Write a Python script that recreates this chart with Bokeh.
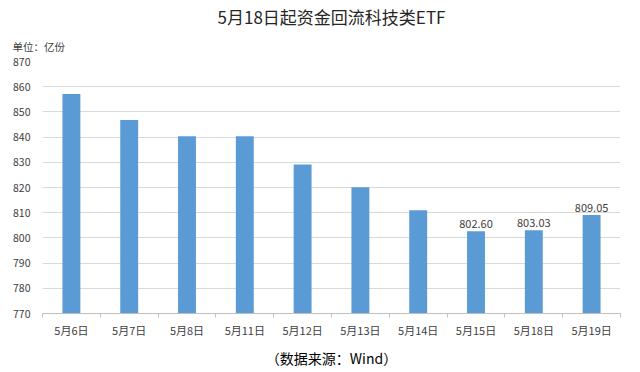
import numpy as np
from bokeh.plotting import figure
from bokeh.models import Title, FixedTicker, Range1d, ColumnDataSource
from bokeh.core.properties import value
from bokeh.embed import file_html
from bokeh.resources import INLINE

categories = ["5月6日", "5月7日", "5月8日", "5月11日", "5月12日",
              "5月13日", "5月14日", "5月15日", "5月18日", "5月19日"]
shares = [857.1, 846.8, 840.3, 840.3, 829.1, 820.1, 811.0, 802.60, 803.03, 809.05]
labeled = [False, False, False, False, False, False, False, True, True, True]
y_ticks = [770, 780, 790, 800, 810, 820, 830, 840, 850, 860, 870]
title_text = "5月18日起资金回流科技类ETF"
unit_text = "单位：亿份"
source_text = "（数据来源：Wind）"

CJK = "Noto Sans CJK SC"
xs = np.arange(len(categories))

p = figure(width=640, height=372, output_backend="svg", toolbar_location=None,
           x_range=Range1d(-0.5, len(categories) - 0.5),
           y_range=Range1d(y_ticks[0], y_ticks[-1]),
           min_border_left=42, min_border_right=20,
           min_border_top=61, min_border_bottom=57)
p.outline_line_color = None
p.background_fill_color = "white"
p.border_fill_color = "white"

src = ColumnDataSource(dict(x=xs, top=shares,
                            lab=["%.2f" % v if f else "" for v, f in zip(shares, labeled)]))
p.vbar(x="x", top="top", bottom=y_ticks[0], width=0.31, source=src,
       fill_color="#5B9BD5", line_color=None)
p.text(x="x", y="top", text="lab", source=src, text_align="center",
       text_baseline="bottom", y_offset=-3, text_font_size="11px",
       text_color="#404040", text_font=value(CJK))

# y axis
p.yaxis.ticker = FixedTicker(ticks=y_ticks)
p.yaxis.axis_line_color = None
p.yaxis.major_tick_line_color = None
p.yaxis.major_tick_out = 0
p.yaxis.major_tick_in = 0
p.yaxis.minor_tick_line_color = None
p.yaxis.major_label_standoff = 12
p.yaxis.major_label_text_font_size = "10.5px"
p.yaxis.major_label_text_color = "#404040"
p.yaxis.major_label_text_font = CJK
p.ygrid.grid_line_color = "#D9D9D9"
p.ygrid.grid_line_width = 1

# x axis
p.xaxis.ticker = FixedTicker(ticks=list(xs), minor_ticks=list(np.arange(len(categories) + 1) - 0.5))
p.xaxis.major_label_overrides = {int(i): c for i, c in zip(xs, categories)}
p.xaxis.axis_line_color = "#BFBFBF"
p.xaxis.major_tick_line_color = None
p.xaxis.major_tick_out = 0
p.xaxis.major_tick_in = 0
p.xaxis.minor_tick_line_color = "#BFBFBF"
p.xaxis.minor_tick_in = 0
p.xaxis.minor_tick_out = 4
p.xaxis.major_label_standoff = 4
p.xaxis.major_label_text_font_size = "11px"
p.xaxis.major_label_text_color = "#404040"
p.xaxis.major_label_text_font = CJK
p.xgrid.grid_line_color = None

p.title.text = title_text
p.title.align = "center"
p.title.text_font_size = "17px"
p.title.text_font = CJK
p.title.text_font_style = "normal"
p.title.text_color = "#262626"
p.title.standoff = 2

p.add_layout(Title(text=unit_text, align="left", offset=-30, standoff=15, text_font_size="10.5px",
                   text_font=CJK, text_font_style="normal", text_color="#404040"), "above")
p.add_layout(Title(text=source_text, align="center", text_font_size="14px",
                   text_font=CJK, text_font_style="normal", text_color="#000000"), "below")

open("out.html", "w").write(file_html(p, INLINE))
